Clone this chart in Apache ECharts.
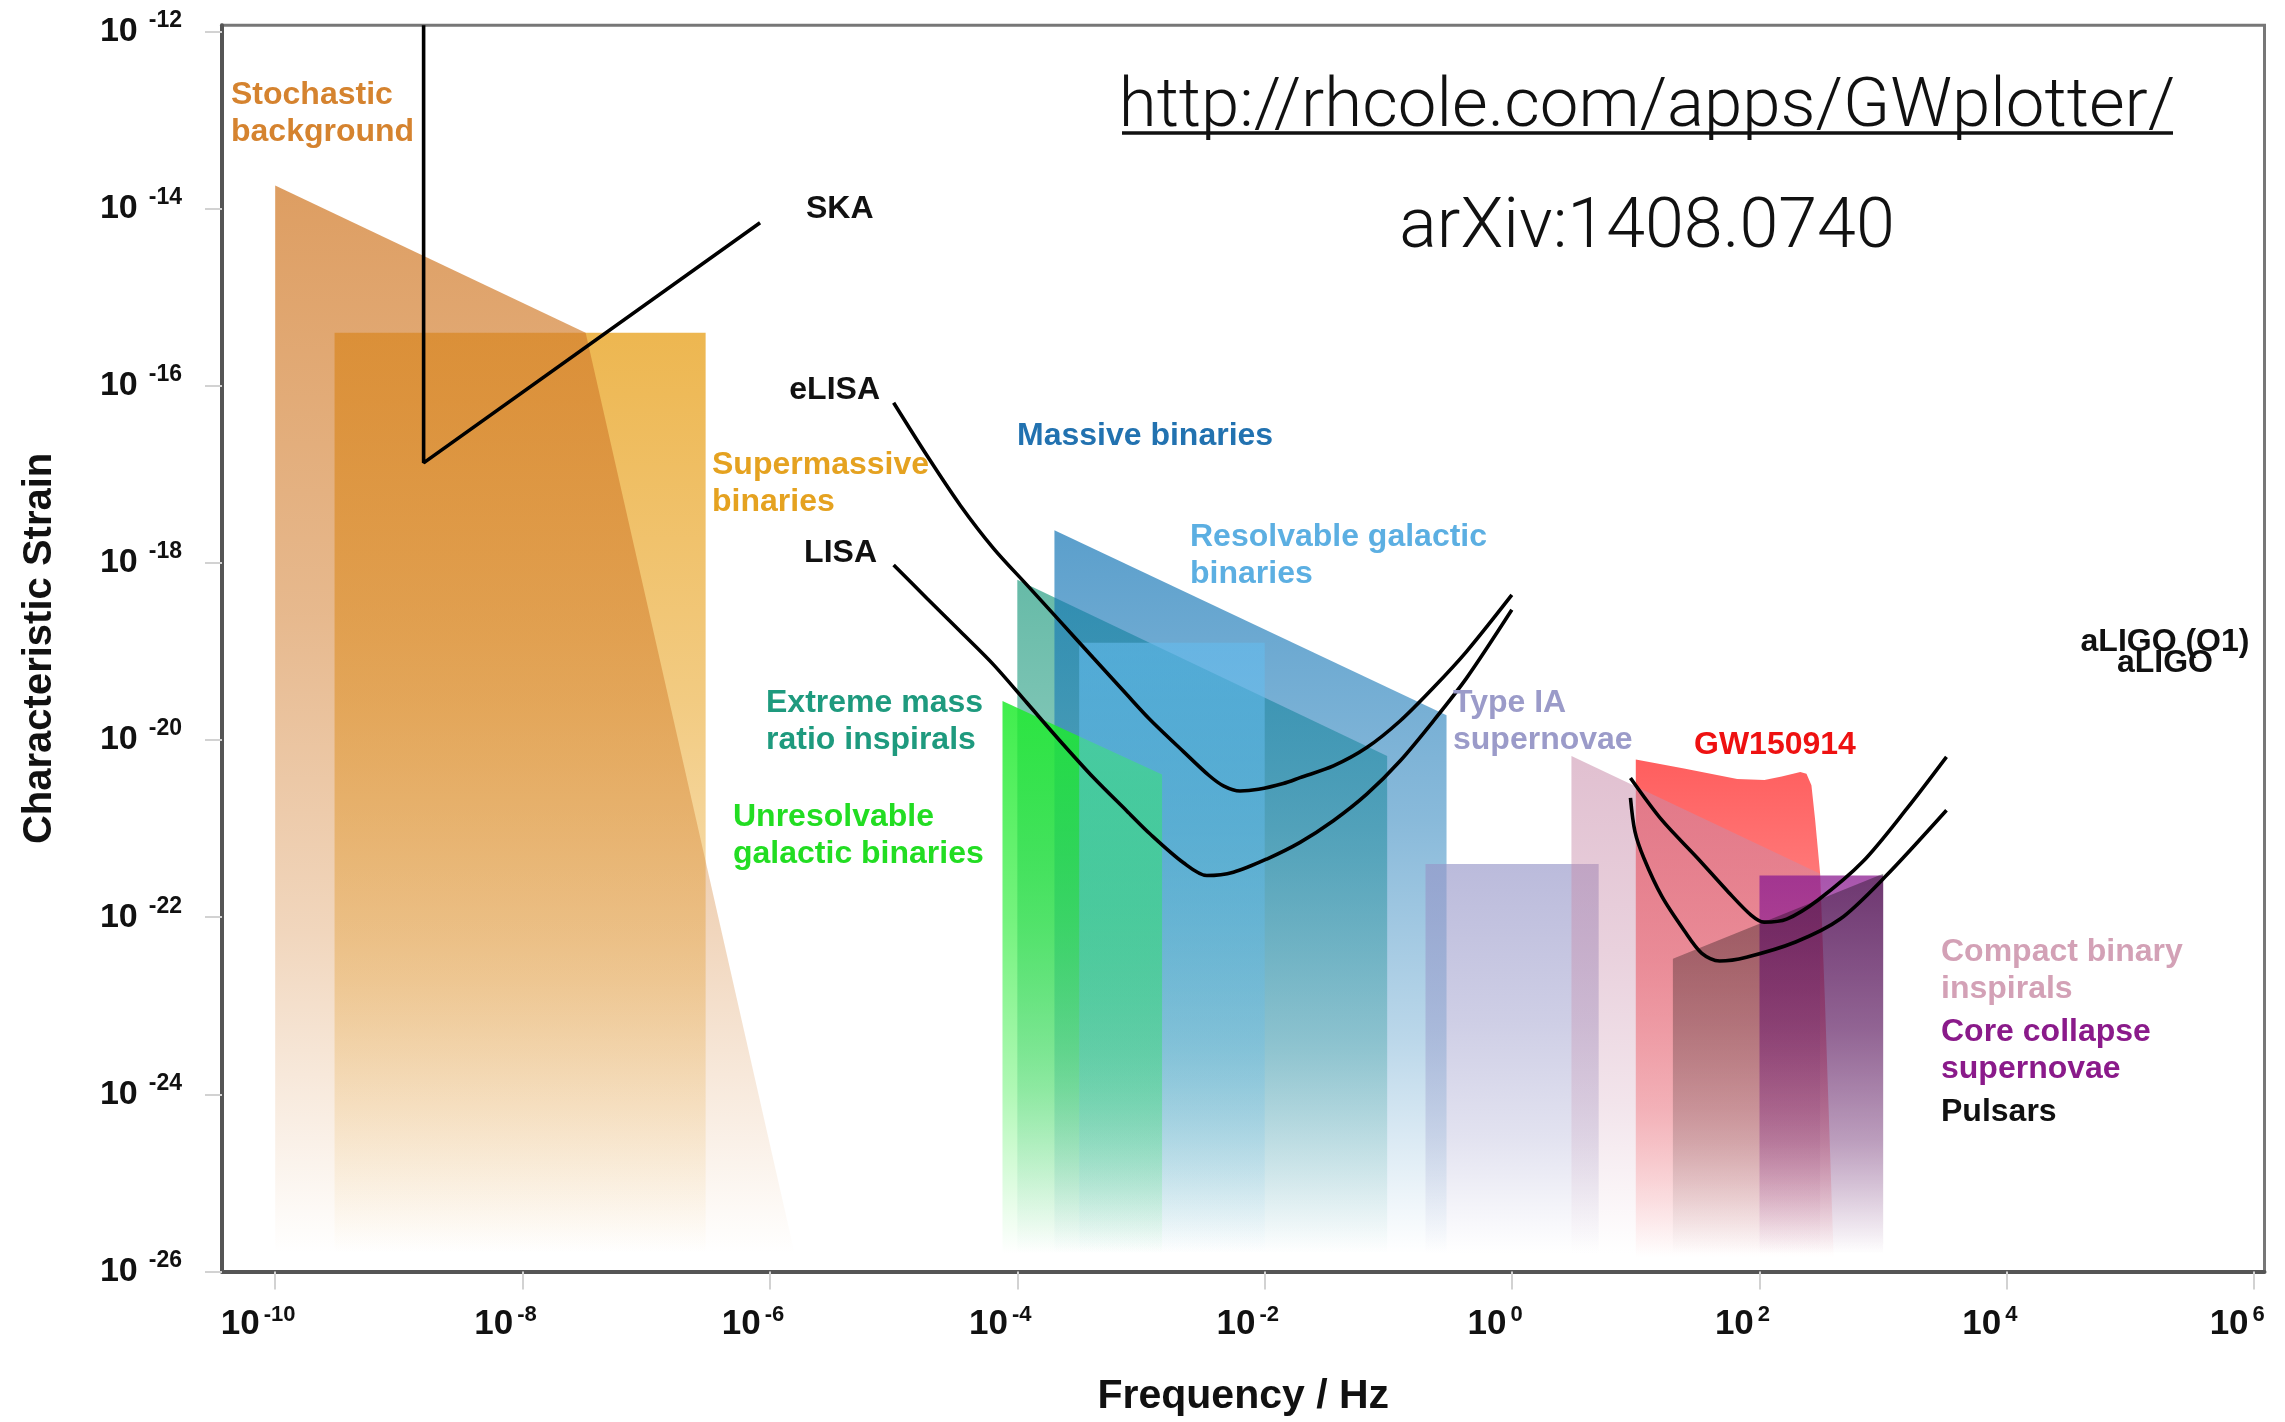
<!DOCTYPE html>
<html>
<head>
<meta charset="utf-8">
<script src="https://cdn.jsdelivr.net/npm/echarts@6/dist/echarts.min.js"></script>
<style>
html,body{margin:0;padding:0;background:#fff;}
#chart{width:2285px;height:1422px;}
</style>
</head>
<body>
<div id="chart"></div>
<script>
// All values are log10 of frequency (Hz) and log10 of characteristic strain
const xTickExponents = [-10, -8, -6, -4, -2, 0, 2, 4, 6];
const yTickExponents = [-26, -24, -22, -20, -18, -16, -14, -12];

// Source regions: [log10 f, log10 h]
const stochasticBackground = [[-10.0, -13.74], [-7.49, -15.40], [-5.80, -25.8], [-10.0, -25.8]];
const supermassiveBinaries = [[-9.52, -15.40], [-6.52, -15.40], [-6.52, -25.8], [-9.52, -25.8]];
const extremeMassRatioInspirals = [[-4.00, -18.19], [-1.01, -20.18], [-1.01, -25.8], [-4.00, -25.8]];
const massiveBinaries = [[-3.70, -17.63], [-0.53, -19.72], [-0.53, -25.8], [-3.70, -25.8]];
const unresolvableGalacticBinaries = [[-4.12, -19.56], [-2.83, -20.39], [-2.83, -25.8], [-4.12, -25.8]];
const resolvableGalacticBinaries = [[-3.50, -18.90], [-2.00, -18.90], [-2.00, -25.8], [-3.50, -25.8]];
const typeIASupernovae = [[-0.70, -21.40], [0.70, -21.40], [0.70, -25.8], [-0.70, -25.8]];
const gw150914 = [[1.00, -20.22], [1.39, -20.32], [1.82, -20.44], [2.04, -20.45], [2.18, -20.41], [2.33, -20.36], [2.38, -20.38], [2.42, -20.51], [2.45, -20.90], [2.49, -21.50], [2.53, -22.97], [2.60, -25.85], [1.00, -25.85]];
const compactBinaryInspirals = [[0.48, -20.18], [2.49, -21.51], [2.49, -25.8], [0.48, -25.8]];
const coreCollapseSupernovae = [[2.00, -21.53], [3.00, -21.53], [3.00, -25.8], [2.00, -25.8]];
const pulsars = [[1.30, -22.47], [3.00, -21.51], [3.00, -25.8], [1.30, -25.8]];

// Detector sensitivity curves
const ska = [[-8.80, -11.93], [-8.80, -16.87], [-6.08, -14.16]];
const elisa = [[-5.000, -16.192], [-4.732, -16.785], [-4.462, -17.348], [-4.193, -17.835], [-3.923, -18.248], [-3.654, -18.660], [-3.385, -19.073], [-3.115, -19.486], [-2.926, -19.770], [-2.657, -20.130], [-2.450, -20.400], [-2.330, -20.520], [-2.200, -20.575], [-2.050, -20.555], [-1.850, -20.490], [-1.714, -20.424], [-1.445, -20.292], [-1.175, -20.085], [-0.906, -19.785], [-0.637, -19.410], [-0.367, -18.998], [-0.002, -18.361]];
const lisa = [[-5.000, -18.023], [-4.732, -18.398], [-4.462, -18.772], [-4.193, -19.148], [-3.923, -19.579], [-3.654, -20.010], [-3.385, -20.423], [-3.115, -20.800], [-2.926, -21.061], [-2.657, -21.385], [-2.468, -21.529], [-2.253, -21.492], [-1.983, -21.343], [-1.714, -21.155], [-1.445, -20.911], [-1.175, -20.611], [-0.906, -20.236], [-0.637, -19.785], [-0.367, -19.298], [-0.002, -18.529]];
const aligoO1 = [[0.957, -20.428], [1.210, -20.902], [1.498, -21.331], [1.751, -21.720], [1.932, -21.976], [2.037, -22.055], [2.220, -22.021], [2.474, -21.805], [2.834, -21.375], [3.193, -20.772], [3.512, -20.190]];
const aligo = [[0.957, -20.652], [0.993, -21.031], [1.065, -21.332], [1.210, -21.763], [1.391, -22.150], [1.534, -22.408], [1.678, -22.494], [1.895, -22.451], [2.292, -22.280], [2.652, -22.021], [3.014, -21.547], [3.512, -20.793]];

const LABEL_FONT = 'bold 32px "Liberation Sans", Arial, Helvetica, sans-serif';

function gradientFill(rgb, a) {
  const c = k => 'rgba(' + rgb[0] + ',' + rgb[1] + ',' + rgb[2] + ',' + (a * k).toFixed(3) + ')';
  return new echarts.graphic.LinearGradient(0, 0, 0, 1, [
    { offset: 0, color: c(1) },
    { offset: 0.4, color: c(0.72) },
    { offset: 0.7, color: c(0.42) },
    { offset: 0.9, color: c(0.14) },
    { offset: 1, color: c(0) }
  ]);
}

function areaSeries(name, pts, rgb, a) {
  return {
    name: name,
    type: 'custom',
    coordinateSystem: 'cartesian2d',
    silent: true,
    clip: true,
    z: 2,
    data: pts,
    renderItem: function (params, api) {
      if (params.dataIndex !== 0) return null;
      return {
        type: 'polygon',
        shape: { points: pts.map(p => api.coord(p)) },
        style: { fill: gradientFill(rgb, a) }
      };
    }
  };
}

function curveSeries(name, pts, smooth) {
  return {
    name: name,
    type: 'line',
    data: pts,
    showSymbol: false,
    symbol: 'none',
    smooth: smooth,
    clip: true,
    z: 10,
    silent: true,
    lineStyle: { color: '#000', width: 3.6 }
  };
}

function label(text, x, y, color, align) {
  return {
    type: 'text',
    x: x, y: y,
    silent: true,
    z: 100,
    style: {
      text: text,
      font: LABEL_FONT,
      fill: color,
      align: align || 'left',
      textAlign: align || 'left',
      verticalAlign: 'middle',
      textVerticalAlign: 'middle',
      lineHeight: 37
    }
  };
}

const chart = echarts.init(document.getElementById('chart'), null, { renderer: 'canvas' });

const option = {
  animation: false,
  backgroundColor: '#ffffff',
  grid: {
    left: 222, right: 20.5, top: 25.3, bottom: 146.5,
    show: true, borderColor: '#777', borderWidth: 3, backgroundColor: 'transparent'
  },
  xAxis: {
    type: 'value',
    min: -10.43, max: 6.083,
    name: 'Frequency / Hz',
    nameLocation: 'middle',
    nameGap: 125,
    nameTextStyle: {
      fontFamily: '"Liberation Sans", Arial, sans-serif',
      fontWeight: 'bold', fontSize: 41, color: '#111', verticalAlign: 'middle'
    },
    splitLine: { show: false },
    axisLine: { show: true, onZero: false, lineStyle: { color: '#555', width: 4 } },
    axisTick: { show: true, inside: false, length: 18, customValues: xTickExponents, lineStyle: { color: '#d2d2d2', width: 2 } },
    axisLabel: {
      customValues: xTickExponents,
      margin: 28,
      padding: [0, 34, 0, 0],
      formatter: v => '{b|10}{s|' + v + '}',
      rich: {
        b: { fontFamily: '"Liberation Sans", Arial, sans-serif', fontWeight: 'bold', fontSize: 35, color: '#111', lineHeight: 50 },
        s: { fontFamily: '"Liberation Sans", Arial, sans-serif', fontWeight: 'bold', fontSize: 22, color: '#111', padding: [0, 0, 20, 4] }
      }
    }
  },
  yAxis: {
    type: 'value',
    min: -26, max: -11.93,
    name: 'Characteristic Strain',
    nameLocation: 'middle',
    nameGap: 182,
    nameTextStyle: {
      fontFamily: '"Liberation Sans", Arial, sans-serif',
      fontWeight: 'bold', fontSize: 40, color: '#111', verticalAlign: 'middle', align: 'center'
    },
    splitLine: { show: false },
    axisLine: { show: true, onZero: false, lineStyle: { color: '#555', width: 4 } },
    axisTick: { show: true, inside: false, length: 17, customValues: yTickExponents, lineStyle: { color: '#d2d2d2', width: 2 } },
    axisLabel: {
      customValues: yTickExponents,
      margin: 40,
      formatter: v => '{b|10}{s|' + v + '}',
      rich: {
        b: { fontFamily: '"Liberation Sans", Arial, sans-serif', fontWeight: 'bold', fontSize: 34, color: '#111', lineHeight: 40 },
        s: { fontFamily: '"Liberation Sans", Arial, sans-serif', fontWeight: 'bold', fontSize: 23, color: '#111', padding: [0, 0, 22, 11] }
      }
    }
  },
  series: [
    areaSeries('Supermassive binaries', supermassiveBinaries, [234, 170, 50], 0.85),
    areaSeries('Stochastic background', stochasticBackground, [210, 125, 45], 0.75),
    areaSeries('Extreme mass ratio inspirals', extremeMassRatioInspirals, [30, 154, 126], 0.68),
    areaSeries('Massive binaries', massiveBinaries, [21, 118, 182], 0.70),
    areaSeries('Unresolvable galactic binaries', unresolvableGalacticBinaries, [30, 235, 45], 0.85),
    areaSeries('Resolvable galactic binaries', resolvableGalacticBinaries, [100, 188, 238], 0.60),
    areaSeries('Type IA supernovae', typeIASupernovae, [150, 150, 200], 0.65),
    areaSeries('GW150914', gw150914, [255, 40, 40], 0.75),
    areaSeries('Compact binary inspirals', compactBinaryInspirals, [200, 140, 170], 0.55),
    areaSeries('Core collapse supernovae', coreCollapseSupernovae, [140, 28, 145], 0.75),
    areaSeries('Pulsars', pulsars, [0, 0, 0], 0.35),
    curveSeries('SKA', ska, false),
    curveSeries('eLISA', elisa, 0.3),
    curveSeries('LISA', lisa, 0.3),
    curveSeries('aLIGO (O1)', aligoO1, 0.3),
    curveSeries('aLIGO', aligo, 0.3)
  ],
  graphic: [
    label('Stochastic\nbackground', 231, 114, '#D5832F'),
    label('Supermassive\nbinaries', 712, 484, '#E5A220'),
    label('SKA', 806, 209, '#111'),
    label('eLISA', 880, 390, '#111', 'right'),
    label('LISA', 877, 553, '#111', 'right'),
    label('Massive binaries', 1017, 436, '#2272B0'),
    label('Resolvable galactic\nbinaries', 1190, 556, '#5CAFE2'),
    label('Extreme mass\nratio inspirals', 766, 722, '#1E9A7E'),
    label('Unresolvable\ngalactic binaries', 733, 836, '#22DD22'),
    label('Type IA\nsupernovae', 1453, 722, '#9B9BC9'),
    label('GW150914', 1694, 745, '#EE1111'),
    label('Compact binary\ninspirals', 1941, 971, '#D3A1B6'),
    label('Core collapse\nsupernovae', 1941, 1051, '#8A1A8A'),
    label('Pulsars', 1941, 1112, '#111'),
    label('aLIGO (O1)', 2165, 642, '#111', 'center'),
    label('aLIGO', 2165, 663, '#111', 'center'),
    {
      type: 'text', x: 1647, y: 109, silent: true, z: 100,
      style: { text: 'http://rhcole.com/apps/GWplotter/', font: '300 69px Roboto, "Liberation Sans", sans-serif', fill: '#111', align: 'center', textAlign: 'center', verticalAlign: 'middle', textVerticalAlign: 'middle' }
    },
    {
      type: 'line', silent: true, z: 100,
      shape: { x1: 1122, y1: 133, x2: 2173, y2: 133 },
      style: { stroke: '#111', lineWidth: 3.5 }
    },
    {
      type: 'text', x: 1647, y: 229, silent: true, z: 100,
      style: { text: 'arXiv:1408.0740', font: '300 70px Roboto, "Liberation Sans", sans-serif', fill: '#111', align: 'center', textAlign: 'center', verticalAlign: 'middle', textVerticalAlign: 'middle' }
    }
  ]
};

chart.setOption(option);
</script>
</body>
</html>
